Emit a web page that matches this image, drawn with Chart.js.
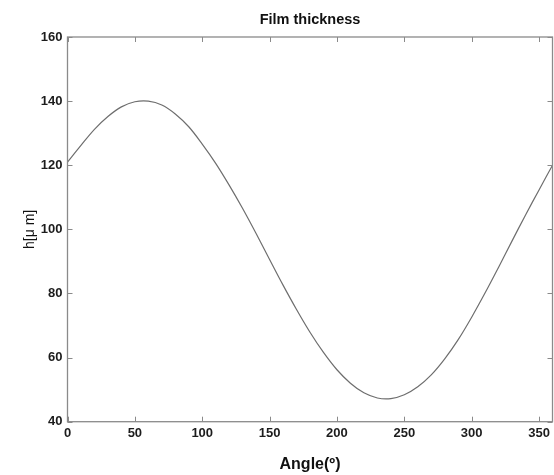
<!DOCTYPE html>
<html>
<head>
<meta charset="utf-8">
<script src="https://cdn.jsdelivr.net/npm/chart.js@4.4.1/dist/chart.umd.min.js"></script>
<style>
html,body{margin:0;padding:0;background:#fff;}
#wrap{width:554px;height:475px;position:relative;}
</style>
</head>
<body>
<div id="wrap"><canvas id="c" width="554" height="475"></canvas></div>
<script>
const angles = [0,10,20,30,40,50,60,70,80,90,100,110,120,130,140,150,160,170,180,190,200,210,220,230,240,250,260,270,280,290,300,310,320,330,340,350,360];
const thickness = [121,126.2,131.2,135.2,138.2,139.8,140.0,138.8,136.0,132.0,126.6,120.6,113.8,106.5,98.7,90.6,82.6,75.0,67.9,61.6,56.2,52.0,49.0,47.4,47.2,48.4,50.9,54.6,59.6,65.6,72.6,80.2,88.2,96.4,104.5,112.3,120];
const xTicks = [0,50,100,150,200,250,300,350];
const yTicks = [40,60,80,100,120,140,160];

const data = angles.map((a,i)=>({x:a,y:thickness[i]}));
const axisColor = '#8a8a8a';
const labelColor = '#1c1c1c';

const boxPlugin = {
  id:'box',
  afterDatasetsDraw(chart){
    const {ctx, chartArea:a, scales:{x,y}} = chart;
    ctx.save();
    ctx.strokeStyle = axisColor;
    ctx.lineWidth = 1.3;
    ctx.strokeRect(a.left, a.top, a.right-a.left, a.bottom-a.top);
    ctx.lineWidth = 1;
    const L = 5;
    ctx.beginPath();
    xTicks.forEach(v=>{
      const px = Math.round(x.getPixelForValue(v))+0.5;
      ctx.moveTo(px,a.bottom); ctx.lineTo(px,a.bottom-L);
      ctx.moveTo(px,a.top); ctx.lineTo(px,a.top+L);
    });
    yTicks.forEach(v=>{
      const py = Math.round(y.getPixelForValue(v))+0.5;
      ctx.moveTo(a.left,py); ctx.lineTo(a.left+L,py);
      ctx.moveTo(a.right,py); ctx.lineTo(a.right-L,py);
    });
    ctx.stroke();
    ctx.restore();
  }
};

new Chart(document.getElementById('c'),{
  type:'line',
  data:{datasets:[{data:data,borderColor:'#6e6e6e',borderWidth:1.2,pointRadius:0,fill:false,tension:0.35}]},
  options:{
    responsive:false,animation:false,
    layout:{padding:{left:0,right:1.5,top:0,bottom:0}},
    plugins:{
      legend:{display:false},tooltip:{enabled:false},
      title:{display:true,fullSize:false,text:'Film thickness',color:'#111',font:{family:'Liberation Sans',size:14.5,weight:'bold'},padding:{top:11.3,bottom:8.3}}
    },
    scales:{
      x:{type:'linear',min:0,max:360,
        afterFit(s){s.height=53.3;},
        afterBuildTicks(s){s.ticks=xTicks.map(v=>({value:v}));},
        grid:{display:false,drawTicks:false},border:{display:false},
        ticks:{color:labelColor,font:{family:'Liberation Sans',size:13,weight:'bold'},padding:4,maxRotation:0,autoSkip:false},
        title:{display:true,text:'Angle(º)',color:'#111',font:{family:'Liberation Sans',size:16,weight:'bold'},padding:{top:0,bottom:0.5}}
      },
      y:{type:'linear',min:40,max:160,
        afterFit(s){s.width=67.5;},
        afterBuildTicks(s){s.ticks=yTicks.map(v=>({value:v}));},
        grid:{display:false,drawTicks:false},border:{display:false},
        ticks:{color:labelColor,font:{family:'Liberation Sans',size:13,weight:'bold'},padding:5},
        title:{display:true,text:'h[μ m]',color:'#111',font:{family:'Liberation Sans',size:14},padding:{top:21.6,bottom:0}}
      }
    }
  },
  plugins:[boxPlugin]
});
</script>
</body>
</html>
